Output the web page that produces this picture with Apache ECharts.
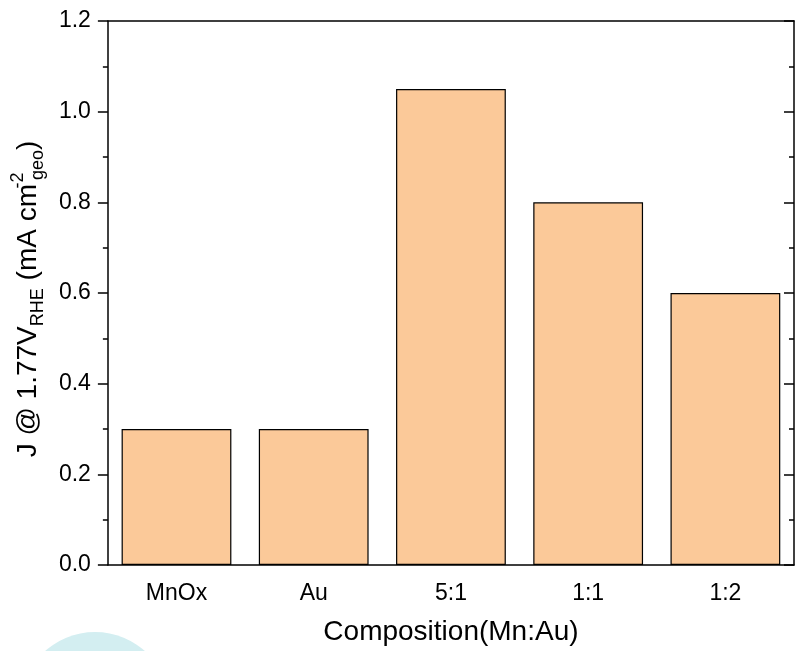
<!DOCTYPE html>
<html>
<head>
<meta charset="utf-8">
<script src="https://cdn.jsdelivr.net/npm/echarts@6/dist/echarts.min.js"></script>
<style>
  html, body { margin: 0; padding: 0; background: #fff; }
  #chart { width: 795px; height: 651px; }
</style>
</head>
<body>
<div id="chart"></div>
<script>
// 数据
const categories = ['MnOx', 'Au', '5:1', '1:1', '1:2'];
const currentJ = [0.30, 0.30, 1.05, 0.80, 0.60];
const yTicks = { min: 0, max: 1.2, interval: 0.2 };

const font = 'Liberation Sans, Arial, sans-serif';
const chart = echarts.init(document.getElementById('chart'));

chart.setOption({
  backgroundColor: '#fff',
  animation: false,
  textStyle: { fontFamily: font },
  grid: { left: 106, right: 1, top: 21, bottom: 85 },
  // 背景水印圆
  graphic: [
    { type: 'circle', shape: { cx: 95, cy: 707, r: 75 }, style: { fill: '#d3eef1' }, z: -10 }
  ],
  xAxis: [
    {
      type: 'category',
      data: categories,
      position: 'bottom',
      name: 'Composition(Mn:Au)',
      nameLocation: 'middle',
      nameGap: 53,
      nameTextStyle: { fontSize: 28, color: '#000', fontFamily: font },
      axisLine: { lineStyle: { color: '#000', width: 1.5 } },
      axisTick: { alignWithLabel: true, inside: false, length: 10, lineStyle: { color: '#000', width: 1.5 } },
      axisLabel: { color: '#000', fontSize: 23, margin: 17, fontFamily: font }
    },
    {
      // 类别边界处的短刻度
      type: 'category',
      data: categories,
      position: 'bottom',
      gridIndex: 0,
      axisLine: { show: false },
      axisTick: { alignWithLabel: false, inside: false, length: 5, lineStyle: { color: '#000', width: 1.5 } },
      axisLabel: { show: false }
    },
    {
      type: 'category',
      data: categories,
      position: 'top',
      axisLine: { lineStyle: { color: '#000', width: 1.5 } },
      axisTick: { alignWithLabel: true, inside: true, length: 10, lineStyle: { color: '#000', width: 1.5 } },
      axisLabel: { show: false }
    }
  ],
  yAxis: [
    {
      type: 'value',
      min: yTicks.min,
      max: yTicks.max,
      interval: yTicks.interval,
      position: 'left',
      name: '{n|J @ 1.77V}{sub|RHE}{n| (mA cm}{sup|-2}{sub|geo}{n|)}',
      nameLocation: 'middle',
      nameRotate: 90,
      nameGap: 59,
      nameTextStyle: {
        fontFamily: font,
        color: '#000',
        padding: [0, 12, 0, 0],
        rich: {
          n: { fontSize: 28, color: '#000', fontFamily: font, lineHeight: 40, verticalAlign: 'middle' },
          sub: { fontSize: 18, color: '#000', fontFamily: font, lineHeight: 40, verticalAlign: 'bottom', padding: [0, 0, 1, 0] },
          sup: { fontSize: 18, color: '#000', fontFamily: font, lineHeight: 40, verticalAlign: 'top', width: 1, padding: [1, 0, 0, 3] }
        }
      },
      axisLine: { show: true, lineStyle: { color: '#000', width: 1.5 } },
      axisTick: { show: true, inside: false, length: 10, lineStyle: { color: '#000', width: 1.5 } },
      minorTick: { show: true, splitNumber: 2, length: 5, lineStyle: { color: '#000', width: 1.5 } },
      splitLine: { show: false },
      axisLabel: {
        color: '#000', fontSize: 23, margin: 17, fontFamily: font,
        formatter: v => v.toFixed(1)
      }
    },
    {
      type: 'value',
      min: yTicks.min,
      max: yTicks.max,
      interval: yTicks.interval,
      position: 'right',
      axisLine: { show: true, lineStyle: { color: '#000', width: 1.5 } },
      axisTick: { show: true, inside: true, length: 10, lineStyle: { color: '#000', width: 1.5 } },
      minorTick: { show: true, splitNumber: 2, length: 5, lineStyle: { color: '#000', width: 1.5 } },
      splitLine: { show: false },
      axisLabel: { show: false }
    }
  ],
  series: [
    {
      type: 'bar',
      data: currentJ,
      xAxisIndex: 0,
      yAxisIndex: 0,
      barWidth: '80%',
      itemStyle: { color: '#fbc999', borderColor: '#000', borderWidth: 1.2 }
    }
  ]
});
</script>
</body>
</html>
